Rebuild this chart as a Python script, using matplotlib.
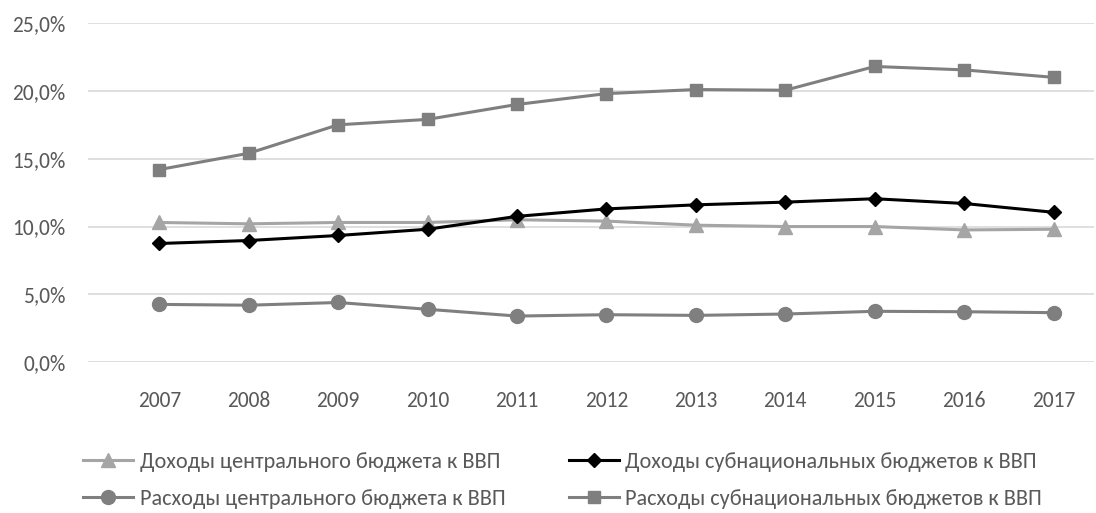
import matplotlib
matplotlib.use("Agg")
import matplotlib.pyplot as plt
from matplotlib import font_manager
from matplotlib.ticker import FuncFormatter

years = [2007, 2008, 2009, 2010, 2011, 2012, 2013, 2014, 2015, 2016, 2017]
rev_central = [10.3, 10.2, 10.3, 10.3, 10.5, 10.4, 10.1, 10.0, 10.0, 9.75, 9.8]
rev_subnational = [8.75, 8.97, 9.34, 9.8, 10.75, 11.3, 11.6, 11.8, 12.05, 11.7, 11.05]
exp_central = [4.26, 4.2, 4.4, 3.9, 3.4, 3.5, 3.45, 3.55, 3.75, 3.72, 3.65]
exp_subnational = [14.2, 15.4, 17.5, 17.9, 19.0, 19.8, 20.1, 20.05, 21.8, 21.55, 21.0]

labels = [
    "Доходы центрального бюджета к ВВП",
    "Доходы субнациональных бюджетов к ВВП",
    "Расходы центрального бюджета к ВВП",
    "Расходы субнациональных бюджетов к ВВП",
]

names = {f.name for f in font_manager.fontManager.ttflist}
font = "Carlito" if "Carlito" in names else "DejaVu Sans"
plt.rcParams["font.family"] = [font, "DejaVu Sans"]

fig = plt.figure(figsize=(10.96, 5.13), dpi=100)
ax = fig.add_axes([0.080, 0.294, 0.918, 0.661])

l1, = ax.plot(years, rev_central, color="#A5A5A5", lw=2.2, marker="^", ms=9.5, label=labels[0], zorder=3)
l2, = ax.plot(years, rev_subnational, color="#000000", lw=2.2, marker="D", ms=7.5, label=labels[1], zorder=4)
l3, = ax.plot(years, exp_central, color="#7F7F7F", lw=2.2, marker="o", ms=10, label=labels[2], zorder=5)
l4, = ax.plot(years, exp_subnational, color="#7F7F7F", lw=2.2, marker="s", ms=9, label=labels[3], zorder=6)

ax.set_ylim(0, 25)
ax.set_xlim(2006.2, 2017.45)
ax.set_yticks([0, 5, 10, 15, 20, 25])
ax.yaxis.set_major_formatter(FuncFormatter(lambda v, p: f"{v:.1f}%".replace(".", ",")))
ax.set_xticks(years)
ax.set_xticklabels([str(y) for y in years])
ax.grid(axis="y", color="#D9D9D9", lw=1.2)
ax.set_axisbelow(True)
for s in ax.spines.values():
    s.set_visible(False)
ax.tick_params(length=0, colors="#595959", labelsize=15.5)
ax.tick_params(axis="y", pad=16)
ax.tick_params(axis="x", pad=21)

leg = fig.legend(
    [l1, l3, l2, l4], [labels[0], labels[2], labels[1], labels[3]],
    ncol=2, loc="center left", bbox_to_anchor=(0.0757, 0.064),
    frameon=False, borderpad=0, borderaxespad=0,
    handlelength=2.25, handletextpad=0.3,
    columnspacing=2.85, labelspacing=0.75,
    prop={"size": 16},
)
for t in leg.get_texts():
    t.set_color("#595959")

fig.savefig("out.png", dpi=100)
